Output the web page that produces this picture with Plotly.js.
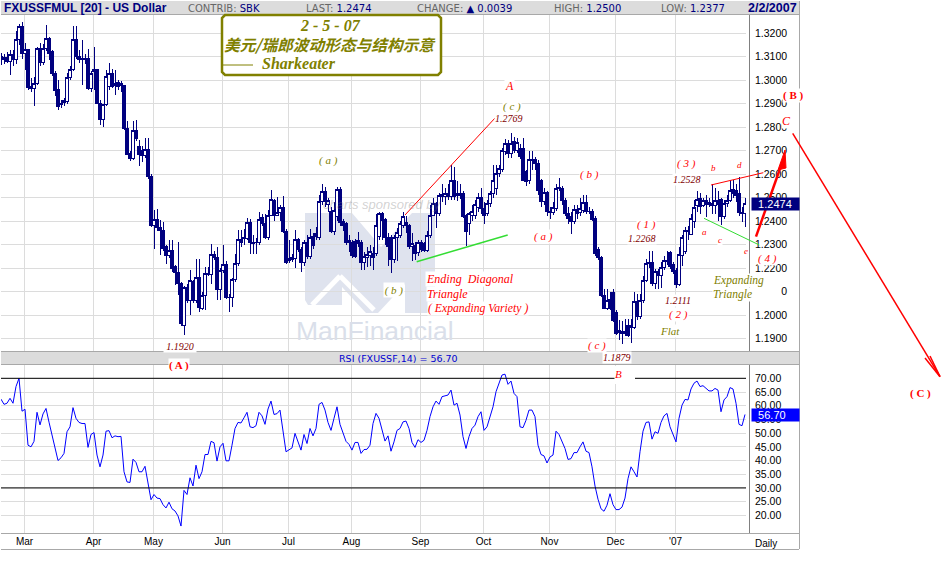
<!DOCTYPE html>
<html><head><meta charset="utf-8">
<script src="https://cdn.plot.ly/plotly-3.0.1.min.js"></script>
<style>html,body{margin:0;padding:0;background:#fff}#c{width:950px;height:568px}
.boxlayer path{shape-rendering:crispEdges !important}</style>
</head><body><div id="c"></div>
<script>
const openPx=[
1.3101,1.3089,1.3098,1.3080,1.3108,1.3089,1.3172,1.3228,1.3115,1.3130,
1.2975,1.2965,1.2985,1.3135,1.3075,1.3135,1.3178,1.3122,1.3030,1.2960,
1.2900,1.2905,1.2910,1.3013,1.3045,1.3172,1.3103,1.3093,1.3089,1.3093,
1.2966,1.3037,1.3044,1.2902,1.2834,1.2895,1.2973,1.3027,1.2987,1.2990,
1.2987,1.2976,1.2796,1.2690,1.2665,1.2786,1.2720,1.2700,1.2678,1.2706,
1.2590,1.2382,1.2406,1.2375,1.2361,1.2293,1.2254,1.2276,1.2208,1.2183,
1.2134,1.1956,1.2117,1.2060,1.2141,1.2060,1.2162,1.2030,1.2084,1.2176,
1.2173,1.2259,1.2245,1.2108,1.2190,1.2216,1.2077,1.2074,1.2151,1.2219,
1.2321,1.2332,1.2325,1.2396,1.2311,1.2311,1.2311,1.2415,1.2389,1.2330,
1.2425,1.2486,1.2425,1.2435,1.2457,1.2358,1.2240,1.2245,1.2240,1.2321,
1.2279,1.2222,1.2311,1.2250,1.2335,1.2347,1.2330,1.2482,1.2528,1.2470,
1.2443,1.2354,1.2418,1.2534,1.2400,1.2389,1.2318,1.2311,1.2314,1.2318,
1.2311,1.2226,1.2245,1.2254,1.2264,1.2262,1.2335,1.2432,1.2406,1.2332,
1.2332,1.2236,1.2330,1.2340,1.2382,1.2396,1.2382,1.2290,1.2297,1.2265,
1.2311,1.2304,1.2276,1.2340,1.2425,1.2475,1.2432,1.2503,1.2506,1.2517,
1.2503,1.2574,1.2517,1.2510,1.2517,1.2425,1.2389,1.2425,1.2425,1.2460,
1.2500,1.2453,1.2432,1.2475,1.2517,1.2540,1.2604,1.2618,1.2696,1.2732,
1.2687,1.2739,1.2703,1.2710,1.2710,1.2610,1.2575,1.2664,1.2664,1.2647,
1.2574,1.2482,1.2520,1.2440,1.2436,1.2453,1.2538,1.2540,1.2490,1.2432,
1.2420,1.2400,1.2450,1.2435,1.2445,1.2480,1.2443,1.2443,1.2410,1.2280,
1.2245,1.2084,1.2030,1.2066,1.2098,1.2013,1.1935,1.1930,1.1920,1.1956,
1.1956,1.1946,1.2056,1.1992,1.2063,1.2148,1.2219,1.2222,1.2136,1.2187,
1.2170,1.2202,1.2233,1.2268,1.2216,1.2190,1.2130,1.2254,1.2270,1.2360,
1.2345,1.2400,1.2465,1.2495,1.2467,1.2486,1.2472,1.2477,1.2467,1.2489,
1.2491,1.2420,1.2474,1.2490,1.2534,1.2531,1.2517,1.2439,1.2432];
const highPx=[
1.3115,1.3110,1.3119,1.3130,1.3130,1.3210,1.3240,1.3250,1.3160,1.3130,
1.3010,1.3015,1.3140,1.3160,1.3155,1.3235,1.3185,1.3130,1.3040,1.3000,
1.2915,1.2925,1.3030,1.3060,1.3230,1.3230,1.3130,1.3172,1.3110,1.3135,
1.3040,1.3143,1.3050,1.2915,1.2900,1.3044,1.3072,1.3050,1.3044,1.3000,
1.2995,1.2980,1.2825,1.2700,1.2825,1.2831,1.2746,1.2720,1.2753,1.2753,
1.2600,1.2446,1.2453,1.2403,1.2396,1.2300,1.2318,1.2321,1.2215,1.2311,
1.2141,1.2125,1.2134,1.2190,1.2150,1.2240,1.2240,1.2100,1.2205,1.2205,
1.2304,1.2275,1.2290,1.2200,1.2297,1.2230,1.2090,1.2160,1.2260,1.2364,
1.2364,1.2368,1.2415,1.2410,1.2340,1.2330,1.2439,1.2430,1.2432,1.2446,
1.2531,1.2496,1.2503,1.2470,1.2506,1.2365,1.2318,1.2260,1.2361,1.2330,
1.2290,1.2318,1.2340,1.2368,1.2350,1.2375,1.2510,1.2560,1.2545,1.2500,
1.2460,1.2480,1.2545,1.2545,1.2410,1.2395,1.2340,1.2320,1.2325,1.2354,
1.2320,1.2270,1.2290,1.2300,1.2290,1.2432,1.2440,1.2440,1.2415,1.2350,
1.2340,1.2340,1.2370,1.2400,1.2440,1.2420,1.2390,1.2350,1.2310,1.2320,
1.2320,1.2310,1.2360,1.2470,1.2500,1.2480,1.2520,1.2560,1.2540,1.2560,
1.2640,1.2632,1.2570,1.2560,1.2530,1.2430,1.2440,1.2470,1.2490,1.2520,
1.2540,1.2480,1.2490,1.2530,1.2640,1.2640,1.2640,1.2710,1.2750,1.2745,
1.2774,1.2760,1.2755,1.2730,1.2753,1.2620,1.2700,1.2700,1.2675,1.2660,
1.2580,1.2540,1.2530,1.2460,1.2480,1.2560,1.2585,1.2550,1.2500,1.2460,
1.2440,1.2470,1.2470,1.2500,1.2510,1.2510,1.2460,1.2450,1.2420,1.2290,
1.2250,1.2110,1.2110,1.2100,1.2110,1.2020,1.1980,1.1975,1.1985,1.1985,
1.1985,1.2098,1.2090,1.2090,1.2165,1.2240,1.2272,1.2272,1.2195,1.2195,
1.2225,1.2250,1.2275,1.2275,1.2225,1.2200,1.2290,1.2340,1.2375,1.2380,
1.2430,1.2490,1.2530,1.2520,1.2500,1.2510,1.2500,1.2560,1.2540,1.2530,
1.2500,1.2490,1.2510,1.2574,1.2574,1.2560,1.2588,1.2460,1.2500];
const lowPx=[
1.3065,1.3070,1.3072,1.3023,1.3060,1.3070,1.3150,1.3090,1.3045,1.2960,
1.2950,1.2890,1.2980,1.3060,1.3065,1.3125,1.3085,1.3020,1.2935,1.2875,
1.2880,1.2890,1.2900,1.3000,1.3040,1.3090,1.3075,1.2980,1.3070,1.2960,
1.2950,1.2960,1.2900,1.2810,1.2802,1.2890,1.2960,1.2965,1.2938,1.2960,
1.2950,1.2790,1.2680,1.2655,1.2660,1.2740,1.2637,1.2650,1.2670,1.2580,
1.2375,1.2283,1.2360,1.2254,1.2275,1.2219,1.2245,1.2183,1.2127,1.2084,
1.1955,1.1914,1.2050,1.1999,1.2050,1.2050,1.2013,1.2020,1.2020,1.2165,
1.2134,1.2235,1.2063,1.2063,1.2180,1.2070,1.2013,1.2034,1.2140,1.2210,
1.2290,1.2300,1.2320,1.2262,1.2262,1.2259,1.2300,1.2380,1.2325,1.2320,
1.2420,1.2400,1.2420,1.2400,1.2350,1.2219,1.2220,1.2225,1.2202,1.2270,
1.2183,1.2210,1.2240,1.2240,1.2283,1.2320,1.2320,1.2470,1.2460,1.2440,
1.2350,1.2340,1.2400,1.2380,1.2360,1.2300,1.2270,1.2245,1.2245,1.2290,
1.2190,1.2190,1.2205,1.2210,1.2190,1.2250,1.2320,1.2320,1.2300,1.2210,
1.2179,1.2220,1.2230,1.2330,1.2370,1.2350,1.2280,1.2230,1.2233,1.2250,
1.2270,1.2270,1.2270,1.2330,1.2420,1.2370,1.2420,1.2480,1.2470,1.2490,
1.2490,1.2490,1.2485,1.2495,1.2415,1.2293,1.2340,1.2400,1.2410,1.2440,
1.2430,1.2390,1.2420,1.2460,1.2500,1.2510,1.2590,1.2610,1.2680,1.2670,
1.2670,1.2690,1.2690,1.2665,1.2570,1.2550,1.2560,1.2620,1.2620,1.2510,
1.2460,1.2470,1.2420,1.2410,1.2425,1.2445,1.2530,1.2470,1.2420,1.2390,
1.2347,1.2390,1.2410,1.2420,1.2435,1.2430,1.2430,1.2400,1.2250,1.2235,
1.2075,1.2025,1.2020,1.2020,1.1970,1.1915,1.1895,1.1875,1.1910,1.1905,
1.1880,1.1940,1.1980,1.1985,1.2050,1.2140,1.2200,1.2125,1.2110,1.2110,
1.2115,1.2190,1.2215,1.2195,1.2175,1.2117,1.2122,1.2210,1.2260,1.2320,
1.2340,1.2370,1.2440,1.2430,1.2460,1.2418,1.2460,1.2430,1.2430,1.2400,
1.2382,1.2410,1.2460,1.2480,1.2500,1.2480,1.2420,1.2396,1.2375];
const closePx=[
1.3087,1.3098,1.3080,1.3108,1.3089,1.3175,1.3228,1.3115,1.3130,1.2970,
1.2965,1.2985,1.3135,1.3075,1.3135,1.3178,1.3115,1.3027,1.2955,1.2890,
1.2895,1.2916,1.3013,1.3045,1.3172,1.3103,1.3089,1.3089,1.3093,1.2966,
1.3030,1.3044,1.2902,1.2834,1.2895,1.3016,1.3027,1.2973,1.2976,1.2973,
1.2976,1.2796,1.2683,1.2665,1.2786,1.2750,1.2682,1.2678,1.2706,1.2590,
1.2382,1.2406,1.2372,1.2361,1.2283,1.2254,1.2276,1.2198,1.2183,1.2134,
1.1963,1.2117,1.2063,1.2148,1.2060,1.2162,1.2034,1.2084,1.2176,1.2173,
1.2259,1.2245,1.2108,1.2190,1.2216,1.2077,1.2074,1.2151,1.2219,1.2321,
1.2307,1.2325,1.2396,1.2307,1.2304,1.2307,1.2406,1.2389,1.2332,1.2425,
1.2492,1.2425,1.2435,1.2457,1.2358,1.2226,1.2233,1.2236,1.2321,1.2279,
1.2226,1.2307,1.2250,1.2332,1.2297,1.2336,1.2482,1.2528,1.2482,1.2486,
1.2354,1.2446,1.2534,1.2396,1.2382,1.2311,1.2311,1.2254,1.2250,1.2304,
1.2226,1.2250,1.2259,1.2269,1.2247,1.2382,1.2432,1.2403,1.2330,1.2293,
1.2236,1.2332,1.2350,1.2389,1.2420,1.2382,1.2290,1.2304,1.2264,1.2311,
1.2278,1.2276,1.2340,1.2425,1.2475,1.2432,1.2510,1.2514,1.2517,1.2506,
1.2574,1.2503,1.2510,1.2517,1.2420,1.2354,1.2432,1.2440,1.2472,1.2500,
1.2453,1.2425,1.2475,1.2517,1.2574,1.2604,1.2625,1.2703,1.2732,1.2687,
1.2729,1.2703,1.2735,1.2675,1.2575,1.2570,1.2664,1.2660,1.2647,1.2530,
1.2482,1.2520,1.2440,1.2436,1.2460,1.2538,1.2545,1.2490,1.2432,1.2410,
1.2400,1.2450,1.2432,1.2453,1.2480,1.2440,1.2440,1.2406,1.2262,1.2245,
1.2084,1.2030,1.2063,1.2030,1.1975,1.1923,1.1924,1.1920,1.1930,1.1915,
1.1949,1.2056,1.1992,1.2063,1.2148,1.2219,1.2222,1.2136,1.2187,1.2170,
1.2202,1.2233,1.2228,1.2205,1.2187,1.2130,1.2259,1.2330,1.2360,1.2355,
1.2410,1.2460,1.2491,1.2463,1.2486,1.2472,1.2481,1.2467,1.2486,1.2472,
1.2420,1.2474,1.2490,1.2531,1.2517,1.2510,1.2435,1.2432,1.2474];
const rsiValues=[
62.4,60.5,60.9,62.7,60.9,67,70,58,58.7,45.6,
45,47,57.6,53,57,59,54,49.3,43.8,40,
41,42.6,50.5,52.3,59.3,55.4,53.9,53.5,53.5,44.8,
49.5,50.2,42,37.7,42,50.7,50.9,48.3,49,48.7,
48.8,35.9,32.2,32,40.5,39.3,35.9,35.9,37.9,31.6,
25.7,27.6,26.3,26.1,23.9,22.7,24.8,22.4,21.6,19.8,
16.1,29.1,27.6,33.7,30.7,38.3,33.4,35.9,42.2,42.2,
47,46.5,39.8,45,46.3,39.9,39.9,45.6,51.7,53.9,
53.7,55.6,57.6,52.3,52,52.7,57.6,56.3,53.2,58.8,
61.7,56.8,57.1,58.4,51,43.2,43.9,44.6,49.9,46.8,
43.8,49.5,46.2,51.7,49,51.7,60.5,61.2,58.4,53.9,
51,55.4,59.6,53.2,50.2,47,45.9,43.8,46.6,46.6,
42.6,44,44.1,45.6,53.5,57.2,55.4,51,47.1,49,
43.4,46.8,51,51.7,54.1,54.4,51.7,46.6,44.8,47.6,
46.6,47.4,51,56,59.6,61.7,60.5,63.3,63.7,63.9,
65.7,60.2,60.9,56.6,48.7,44.4,48.7,51.7,52.9,56,
57.8,51,52.3,56,59.6,65.1,68.2,71.2,71.5,67.8,
69,64.5,63.3,52.3,52,54.7,58.4,58.4,56,45.6,
42.2,41.7,39.1,41.3,42,50.7,49.5,46.6,44.4,40.4,
40.7,42.9,42.9,45,46.8,43.4,42.9,37.7,30.7,25.9,
22.4,21.5,23.7,27.9,23.9,22.1,22.1,23,26.3,33.4,
37.7,35.9,34,43.2,50.7,53.9,54.1,47.8,50.5,49.9,
53.9,56.3,57.2,52.3,49.5,46.8,55.4,60.2,62.3,62.1,
66.1,68.2,69,67,67.3,66.3,65.4,65.4,66.3,65.7,
57.8,62.1,63.3,66.6,66.1,60.9,53.2,52.7,56.8];
const barIndex=openPx.map((_,i)=>i);
const monthLabels=['Mar','Apr','May','Jun','Jul','Aug','Sep','Oct','Nov','Dec',"'07"];
const monthBars=[7.83,30.83,50.83,73.83,95.83,116.83,139.83,160.83,182.83,204.83,224.83];
const priceTicks=[1.19,1.20,1.21,1.22,1.23,1.24,1.25,1.26,1.27,1.28,1.29,1.30,1.31,1.32];
const NB='\u00a0';
const priceTickText=['1.1900','1.2000',NB.repeat(9)+'0','1.2200','1.2300','1.2400','1.2500','1.2600','1.2700','1.2800','1.2900','1.3000','1.3100','1.3200'];
const rsiTicks=[20,25,30,35,40,45,50,55,60,65,70];
const rsiTickText=['20.00','25.00','30.00','35.00','40.00','45.00','50.00','55.00','60.00','65.00','70.00'];

const NAVY='#00007f',GRID='#dcdcdc',EDGE='#a8a8a8',OLIVE='#808000',RED='#ff0000',DRED='#7f0000';
const L=1,R=746,T=15,B=534;
const X=p=>(p-L)/(R-L), Y=p=>1-(p-T)/(B-T);
const SERIF='"Liberation Serif",serif', SANS='"Liberation Sans",Arial,sans-serif';

const shapes=[];
function pline(x0,y0,x1,y1,color,w,layer){shapes.push({type:'line',xref:'paper',yref:'paper',x0:X(x0),y0:Y(y0),x1:X(x1),y1:Y(y1),line:{color,width:w},layer:layer||'above'});}
function prect(x0,y0,x1,y1,fill,layer){shapes.push({type:'rect',xref:'paper',yref:'paper',x0:X(x0),y0:Y(y0),x1:X(x1),y1:Y(y1),fillcolor:fill,line:{width:0},layer:layer||'above'});}
function ppath(pts,fill,lineColor,w,layer){const d=pts.map((q,i)=>(i?'L':'M')+X(q[0]).toFixed(5)+','+Y(q[1]).toFixed(5)).join(' ')+' Z';
  shapes.push({type:'path',xref:'paper',yref:'paper',path:d,fillcolor:fill,line:lineColor?{color:lineColor,width:w}:{width:0},layer:layer||'above'});}

// watermark logo (below the grid)
const LOGO='#dfe3ee';
ppath([[305,213],[352,213],[381,247],[412,213],[435,213],[435,313],[405,313],[405,284],[378,313],[366,313],[342,287],[342,305],[308,305],[305,300]],LOGO,null,0,'below');
pline(312,305,340,276,'#ffffff',5,'below');
pline(340,276,374,310,'#ffffff',5,'below');

// header / separators / frame
prect(1,1,799,14,'#dcdcdc');
pline(1,14.5,799,14.5,EDGE,1);
prect(1,352,799,364,'#dcdcdc');
pline(1,351.5,799,351.5,EDGE,1);
pline(1,364.5,799,364.5,EDGE,1);
pline(1,533.5,799,533.5,EDGE,1);
pline(1,549.5,799,549.5,EDGE,1);
pline(799.5,1,799.5,549,EDGE,1);
pline(749.5,15,749.5,351,'#808080',1);
pline(749.5,365,749.5,533,'#808080',1);

// RSI reference lines
[70,30].forEach(v=>shapes.push({type:'line',xref:'x2',yref:'y2',x0:0,x1:248.33,y0:v,y1:v,line:{color:'#000',width:1},layer:'above'}));
prect(615,366,635,384,'#ffffff');

// Wave overlays
pline(405,215,495.7,117.3,RED,1);
pline(416.7,261.7,507.7,235,'#33dd33',1.5);
pline(711,185,763.3,172.7,RED,1);
pline(704,218.3,759.3,245,'#33dd33',1);
pline(756,236.7,782,163,RED,2.5);
ppath([[785,150],[778,170],[786,168]],RED,RED,1);
pline(792.7,133.3,940,376.7,RED,1.5);
pline(925,358,940,376.7,RED,1.5);
pline(930,356,940,376.7,RED,1.5);

// Title box
const bx0=222,bx1=441,by0=15,by1=75,c=3;
ppath([[bx0+c,by0],[bx1-c,by0],[bx1,by0+c],[bx1,by1-c],[bx1-c,by1],[bx0+c,by1],[bx0,by1-c],[bx0,by0+c]],'#ffffff',OLIVE,2.5);
pline(223,65,253,65,OLIVE,1);

const ann=[];
function label(t,x,y,color,size,o){ann.push(Object.assign({text:t,xref:'paper',yref:'paper',x:X(x),y:Y(y),xanchor:'center',yanchor:'middle',showarrow:false,borderpad:0,
  font:{family:SERIF,color,size}},o||{}));}
const W={bgcolor:'#ffffff'};
const hdr=(a,b)=>`<span style="color:#666">${a}</span> <span style="color:${NAVY}">${b}</span>`;
label('<b>FXUSSFMUL [20] - US Dollar</b>',3,8,NAVY,12,{xanchor:'left',font:{family:SANS,color:NAVY,size:12}});
const hf={family:'"DejaVu Sans",sans-serif',size:10,color:NAVY};
label(hdr('CONTRIB:','SBK'),224,8,NAVY,10,{font:hf});
label(hdr('LAST:','1.2474'),339,8,NAVY,10,{font:hf});
label(hdr('CHANGE:','▲ 0.0039'),464,8,NAVY,10,{font:hf});
label(hdr('HIGH:','1.2500'),587,8,NAVY,10,{font:hf});
label(hdr('LOW:','1.2377'),693,8,NAVY,10,{font:hf});
label('<b>2/2/2007</b>',772,8,NAVY,12.5,{font:{family:SANS,color:NAVY,size:12.5}});
label('RSI (FXUSSF,14) = 56.70',398,358,'#0000d0',10,{font:{family:'"DejaVu Sans",sans-serif',color:'#0000d0',size:9.5}});
label('Daily',766,543,'#000',10,{font:{family:SANS,color:'#000',size:10}});
// value tags
label(NB+NB+'1.2474',775,204,'#fff',10.5,{font:{family:SANS,color:'#fff',size:11},bgcolor:NAVY,width:47,height:12,align:'left'});
label(NB+NB+'56.70',775,415,'#fff',10.5,{font:{family:SANS,color:'#fff',size:11},bgcolor:'#0000ff',width:47,height:12,align:'left'});
// watermark
label('<i>charts sponsored by</i>',382,204,'rgba(120,120,120,.35)',13,{font:{family:SANS,color:'rgba(120,120,120,.35)',size:13}});
label('ManFinancial',375,331,'#dadfea',26.5,{font:{family:SANS,color:'#dadfea',size:26.5}});
// title box
const it=s=>`<i>${s}</i>`;
label(it('<b>2 - 5 - 07</b>'),330,26,OLIVE,16);
label('<b><i>美元/瑞郎波动形态与结构示意</i></b>',330,45,OLIVE,15.7,{font:{family:'"Noto Sans CJK SC",sans-serif',color:OLIVE,size:15.7}});
label(it('<b>Sharkeater</b>'),299,64,OLIVE,16);
// wave labels
const I=(t,x,y,col,s,o)=>label(it(t),x,y,col,s||11,Object.assign({},W,o||{}));
I('A',509.5,86,RED,12);
I('( c )',512,106,OLIVE,11);
I('1.2769',509,118,DRED,10);
I('( a )',328,160,OLIVE,11);
I('( b )',589,174,RED,11);
I('( b )',394,289.5,OLIVE,11,{width:20,height:14});
I('( a )',543,236,RED,11);
I('( c )',597,345,RED,11);
I('1.1879',617,357,DRED,10);
I('1.1920',180,346,DRED,10,{width:32,height:12});
label('<b>( A )</b>',179,365,RED,11,W);
I('B',618.5,374,RED,11);
label(it('Ending  Diagonal'),470,279,RED,12,W);
label(it('Triangle'),447,293.5,RED,12,W);
label(it('( Expanding Variety )'),478,308,RED,11.7,W);
I('( 1 )',646.5,224,RED,11);
I('1.2268',642,238,DRED,10);
I('( 3 )',686.5,164,RED,11);
I('1.2528',686.5,179,DRED,10);
I('b',713,168,RED,9);
I('d',739,165,RED,9);
I('a',704.5,232,RED,9);
I('c',720,240,RED,9);
I('e',746,251,RED,9);
I('( 4 )',767,258,RED,11);
I('1.2111',678,300,DRED,10);
I('( 2 )',678,314,RED,11);
I('Flat',670,331,OLIVE,11);
I('Expanding',738,280,OLIVE,11.5);
I('Triangle',732,294.5,OLIVE,11.5);
label('<b>( B )</b>',793,96,RED,11,W);
I('C',787,121,RED,12);
label('<b>( C )</b>',920,393,RED,11,W);

const traces=[
 {type:'candlestick',x:barIndex,open:openPx,high:highPx,low:lowPx,close:closePx,xaxis:'x',yaxis:'y',
  increasing:{line:{color:NAVY,width:1},fillcolor:'#ffffff'},decreasing:{line:{color:NAVY,width:1},fillcolor:NAVY},whiskerwidth:0,showlegend:false,hoverinfo:'skip'},
 {type:'scatter',mode:'lines',x:barIndex,y:rsiValues,xaxis:'x2',yaxis:'y2',line:{color:'#0000ff',width:1},showlegend:false,hoverinfo:'skip'}
];
const H=B-T;
const tickF={family:SANS,size:10.5,color:'#000'};
const grid={showgrid:true,gridcolor:GRID,gridwidth:1,zeroline:false,showline:false,ticks:''};
const layout={
 width:950,height:568,margin:{l:L,r:950-R,t:T,b:568-B,pad:0},
 paper_bgcolor:'#ffffff',plot_bgcolor:'rgba(0,0,0,0)',showlegend:false,boxgap:0,
 xaxis:Object.assign({},grid,{domain:[0,1],range:[0,248.33],anchor:'y',tickmode:'array',tickvals:monthBars,showticklabels:false,rangeslider:{visible:false}}),
 yaxis:Object.assign({},grid,{domain:[(B-351)/H,1],range:[1.1847,1.3278],side:'right',anchor:'x',tickmode:'array',tickvals:priceTicks,ticktext:priceTickText,tickfont:tickF,ticklabelstandoff:8}),
 xaxis2:Object.assign({},grid,{domain:[0,1],range:[0,248.33],anchor:'y2',tickmode:'array',tickvals:monthBars,ticktext:monthLabels,tickfont:{family:SANS,size:10,color:'#000'}}),
 yaxis2:Object.assign({},grid,{domain:[0,(B-365)/H],range:[13.2,74.85],side:'right',anchor:'x2',tickmode:'array',tickvals:rsiTicks,ticktext:rsiTickText,tickfont:tickF,ticklabelstandoff:8}),
 shapes,annotations:ann
};
Plotly.newPlot('c',traces,layout,{staticPlot:true,displayModeBar:false});
</script></body></html>
